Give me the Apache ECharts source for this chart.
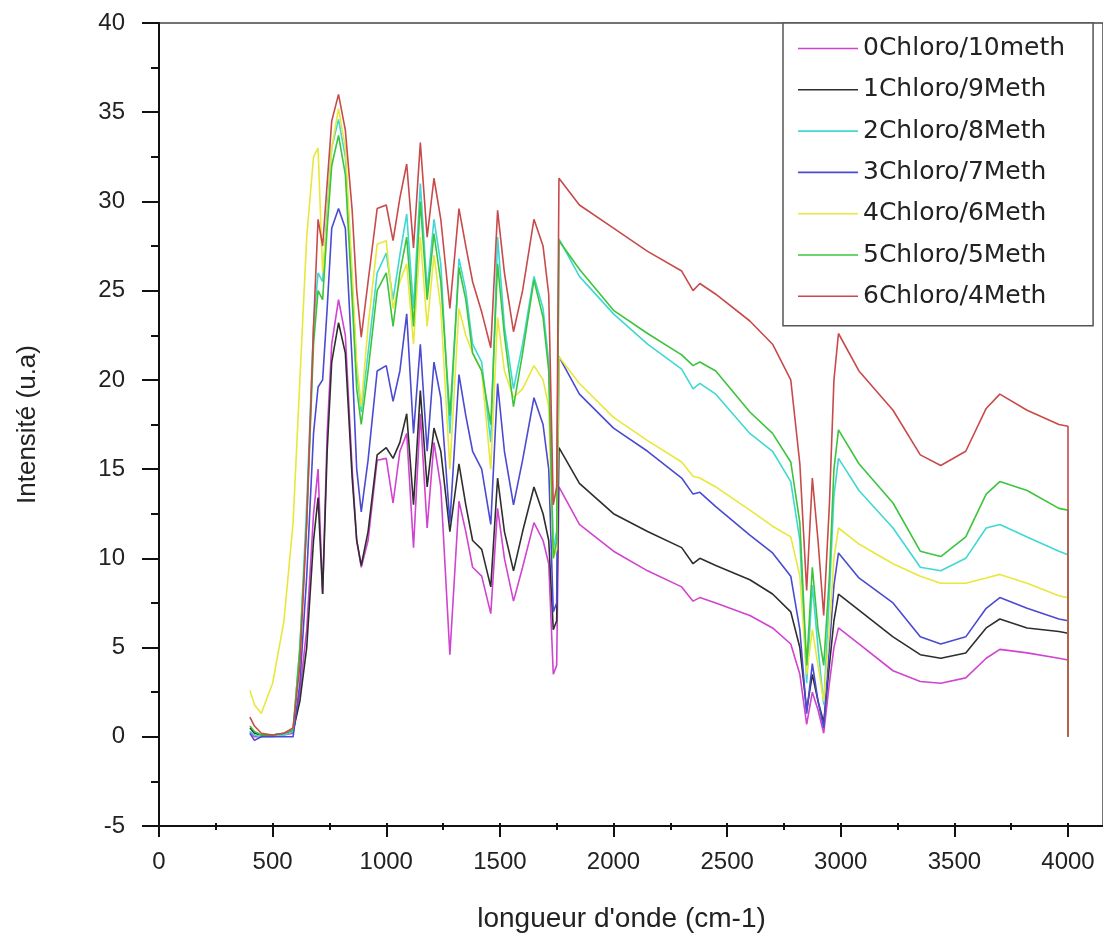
<!DOCTYPE html>
<html>
<head>
<meta charset="utf-8">
<script src="https://cdn.jsdelivr.net/npm/echarts@6/dist/echarts.min.js"></script>
<style>html,body{margin:0;padding:0;background:#fff;}#c{width:1103px;height:938px;}</style>
</head>
<body>
<div id="c"></div>
<script>
// wavenumber (cm-1)
const wavenumber = [400,420,450,500,550,590,620,650,680,700,720,740,760,790,820,850,870,890,920,960,1000,1030,1060,1090,1120,1150,1180,1210,1240,1280,1320,1350,1380,1420,1460,1490,1520,1560,1600,1650,1690,1715,1735,1750,1760,1850,2000,2150,2300,2350,2380,2450,2600,2700,2780,2820,2850,2875,2900,2925,2950,2970,2990,3080,3230,3350,3440,3550,3640,3700,3820,3960,4000,4000];

const names = ['0Chloro/10meth','1Chloro/9Meth','2Chloro/8Meth','3Chloro/7Meth','4Chloro/6Meth','5Chloro/5Meth','6Chloro/4Meth'];

const chloro0 = [0.3,0.0,0.0,0.1,0.1,0.2,2.5,6,12.5,15.0, 8.0,17.0,22.0,24.5,22.5,15.0,11.0,9.5,11.0,15.5, 15.6,13.1,16.0,17.0,10.6,18.1,11.7,16.5,14.0,4.6, 13.2,11.5,9.5,9.0,6.9,12.8,10.0,7.6,9.5,12.0, 11.0,9.7,3.5,4.0,14.0, 11.9,10.4,9.3,8.4,7.6,7.8,7.5,6.8,6.1,5.2, 3.5,0.7,2.5,1.5,0.2,3.0,5.0,6.1,5.2,3.7, 3.1,3.0,3.3,4.4,4.9,4.7,4.4,4.3,0];
const chloro1 = [0.5,0.2,0.1,0.1,0.2,0.3,2,5,11,13.4, 8.0,16.0,21.0,23.2,21.5,14.5,11.0,9.6,11.5,15.8, 16.2,15.6,16.5,18.1,13.0,19.4,14.0,17.3,16.0,11.5, 15.3,13.0,11.0,10.5,8.4,14.5,11.5,9.3,11.5,14.0, 12.5,11.0,6.0,6.5,16.2, 14.2,12.5,11.5,10.6,9.7,10.0,9.6,8.8,8.0,7.0, 5.0,1.5,3.5,2.0,0.8,4.0,6.5,8.0,7.1,5.6, 4.6,4.4,4.7,6.1,6.6,6.1,5.9,5.8,0];
const chloro2 = [0.3,0.1,0.0,0.0,0.1,0.3,5,13,23,26.0, 25.5,29.5,33.0,34.6,32.5,25.5,20.5,18.2,21.5,26.0, 27.1,24.5,27.0,29.3,24.0,31.0,25.0,29.0,26.5,17.0, 26.8,25.0,22.0,21.0,16.5,28.0,23.0,19.5,22.0,25.8, 24.0,21.0,10.5,11.5,27.9, 25.8,23.7,22.0,20.6,19.5,19.8,19.2,17.0,16.0,14.3, 11.0,3.0,8.5,5.0,1.8,8.0,13.5,15.6,13.8,11.7, 9.5,9.3,10.0,11.7,11.9,11.2,10.4,10.2,0];
const chloro3 = [0.2,-0.2,0.0,0.0,0.0,0.0,3,9,17,19.6, 20.0,24.0,28.5,29.6,28.5,21.0,15.0,12.6,15.5,20.5, 20.8,18.8,20.5,23.7,17.0,22.0,16.0,21.0,19.0,12.0, 20.3,18.0,16.0,15.0,11.9,19.8,16.0,13.0,15.5,19.0, 17.5,15.0,7.0,7.5,21.3, 19.2,17.3,16.0,14.5,13.6,13.7,12.9,11.3,10.3,9.0, 6.0,1.3,4.1,2.0,0.5,5.0,8.5,10.3,8.9,7.5, 5.6,5.2,5.6,7.2,7.8,7.2,6.6,6.5,0];
const chloro4 = [2.6,1.8,1.3,3.0,6.5,12.0,20.0,28.0,32.5,33.0, 26.0,29.0,33.0,35.2,33.0,26.0,21.0,18.5,23.0,27.6, 27.8,24.0,25.5,26.5,22.0,28.0,23.0,27.0,24.0,15.0, 24.0,22.5,21.5,20.5,15.0,23.5,20.5,19.0,19.5,20.8, 20.0,18.5,10.0,10.5,21.3, 19.8,17.9,16.6,15.4,14.6,14.5,14.0,12.7,11.8,11.2, 9.0,3.5,6.0,4.0,2.0,6.0,10.0,11.7,10.8,9.7, 9.0,8.6,8.6,8.9,9.1,8.6,7.9,7.8,0];
const chloro5 = [0.6,0.3,0.1,0.1,0.2,0.4,5,12,22,25.0, 24.5,28.5,32.0,33.7,31.5,24.5,19.5,17.5,20.5,25.0, 26.0,23.0,26.0,28.0,23.0,30.0,24.5,28.2,25.5,18.0, 26.3,24.5,21.5,20.5,17.5,26.5,22.5,18.5,21.5,25.6, 23.5,20.5,10.0,11.0,27.8, 26.2,23.9,22.6,21.4,20.8,21.0,20.5,18.2,17.0,15.4, 12.0,4.0,9.5,6.0,4.0,9.0,15.0,17.2,15.3,13.1, 10.4,10.1,11.2,13.6,14.3,13.8,12.8,12.7,0];
const chloro6 = [1.1,0.6,0.2,0.1,0.2,0.5,4,12,23,29.0, 27.5,31.0,34.5,36.0,34.0,29.5,25.0,22.4,25.5,29.6, 29.8,27.8,30.2,32.1,27.4,33.3,28.0,31.3,29.0,24.0, 29.6,27.5,25.5,23.8,21.8,29.5,26.0,22.7,25.0,29.0, 27.5,24.8,13.0,14.0,31.3, 29.8,28.5,27.2,26.1,25.0,25.4,24.8,23.3,22.0,20.0, 15.3,8.2,14.5,11.0,6.8,13.0,20.0,22.6,20.5,18.3, 15.8,15.2,16.0,18.4,19.2,18.3,17.5,17.4,0];

const seriesValues = [chloro0, chloro1, chloro2, chloro3, chloro4, chloro5, chloro6];
const colors = ['#d044d0','#2e2e2e','#3fd8d2','#4a4ad2','#e8e83c','#3cc43c','#c84a4a'];

const xTicks = [0,500,1000,1500,2000,2500,3000,3500,4000];
const yTicks = [-5,0,5,10,15,20,25,30,35,40];
const xMax = 4154;   // visible end of the x axis (axis runs off the picture)

const chart = echarts.init(document.getElementById('c'), null, {renderer:'canvas'});
const axisCol = '#111';
const tickFont = {fontFamily:'Liberation Sans, Arial, sans-serif', fontSize:24, color:'#222'};

const option = {
  animation:false,
  backgroundColor:'#fff',
  color: colors,
  grid:[
    {left:159, right:0, top:23, bottom:112, show:true, borderColor:'#444', borderWidth:1.5, backgroundColor:'transparent'},
    {left:159, width:909, top:23, bottom:112, show:false}
  ],
  legend:{
    data: names,
    orient:'vertical',
    left:783, top:23,
    padding:[13,28,17,15],
    icon:'rect',
    itemWidth:60, itemHeight:1.6, itemGap:16.3,
    backgroundColor:'#fff',
    borderColor:'#555', borderWidth:1.5,
    textStyle:{fontFamily:'DejaVu Sans, sans-serif', fontSize:25, color:'#222', lineHeight:25}
  },
  xAxis:[{
    gridIndex:0, type:'value', min:xTicks[0], max:xMax,
    axisLine:{show:true, onZero:false, lineStyle:{color:axisCol, width:2}},
    axisTick:{show:false}, axisLabel:{show:false}, splitLine:{show:false}
  },{
    gridIndex:1, type:'value', min:xTicks[0], max:xTicks[xTicks.length-1], interval:500, position:'bottom',
    name:"longueur d'onde (cm-1)", nameLocation:'middle', nameGap:82,
    nameTextStyle:{fontFamily:'Liberation Sans, Arial, sans-serif', fontSize:28, color:'#222', padding:[0,0,0,16]},
    axisLine:{show:false, onZero:false},
    axisTick:{show:true, length:14, lineStyle:{color:axisCol, width:2}},
    minorTick:{show:true, splitNumber:2, length:7, lineStyle:{color:axisCol, width:2}},
    axisLabel:Object.assign({margin:27, formatter:v => String(v)}, tickFont),
    splitLine:{show:false}
  }],
  yAxis:[{
    gridIndex:0, type:'value', min:yTicks[0], max:yTicks[yTicks.length-1], interval:5,
    name:'Intensité (u.a)', nameLocation:'middle', nameGap:118,
    nameTextStyle:{fontFamily:'Liberation Sans, Arial, sans-serif', fontSize:26, color:'#222'},
    axisLine:{show:true, onZero:false, lineStyle:{color:axisCol, width:2}},
    axisTick:{show:true, length:17, lineStyle:{color:axisCol, width:2}},
    minorTick:{show:true, splitNumber:2, length:8, lineStyle:{color:axisCol, width:2}},
    axisLabel:Object.assign({margin:34, formatter:v => String(v)}, tickFont),
    splitLine:{show:false}
  },{
    gridIndex:1, type:'value', min:yTicks[0], max:yTicks[yTicks.length-1], show:false
  }],
  series: seriesValues.map((vals, i) => ({
    name: names[i],
    type:'line',
    xAxisIndex:0, yAxisIndex:0,
    symbol:'none',
    smooth:false,
    lineStyle:{width:1.6, color:colors[i]},
    itemStyle:{color:colors[i]},
    data: wavenumber.map((w, k) => [w, vals[k]])
  }))
};
chart.setOption(option);
</script>
</body>
</html>
